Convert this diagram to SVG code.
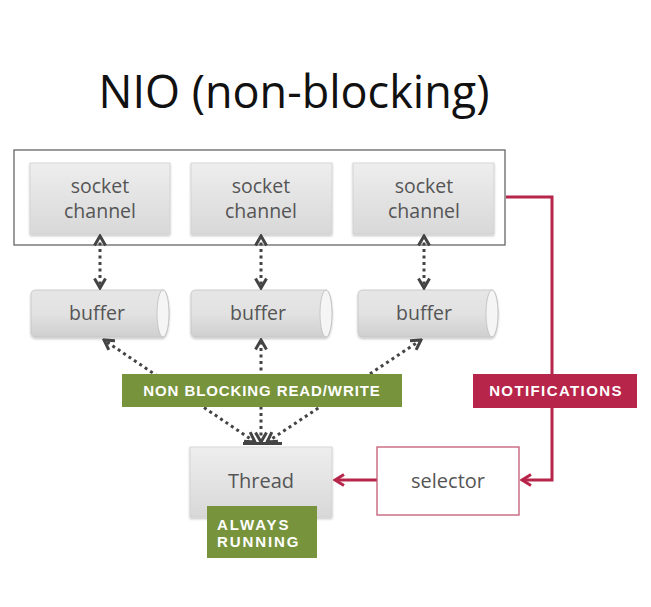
<svg xmlns="http://www.w3.org/2000/svg" width="651" height="607" viewBox="0 0 651 607">
<defs>
<linearGradient id="gbox" x1="0" y1="0" x2="0" y2="1">
<stop offset="0" stop-color="#eeeeee"/>
<stop offset="1" stop-color="#d8d8d8"/>
</linearGradient>
<linearGradient id="gcyl" x1="0" y1="0" x2="0" y2="1">
<stop offset="0" stop-color="#e6e6e6"/>
<stop offset="0.5" stop-color="#e2e2e2"/>
<stop offset="1" stop-color="#cfcfcf"/>
</linearGradient>
<marker id="ah" viewBox="0 0 14 14" refX="12" refY="7" markerWidth="14" markerHeight="14" markerUnits="userSpaceOnUse" orient="auto-start-reverse">
<path d="M2.5,1.5 L12,7 L2.5,12.5" fill="none" stroke="#444" stroke-width="3"/>
</marker>
<marker id="ahr" viewBox="0 0 14 14" refX="12" refY="7" markerWidth="14" markerHeight="14" markerUnits="userSpaceOnUse" orient="auto">
<path d="M3,1.5 L12,7 L3,12.5" fill="none" stroke="#b8254a" stroke-width="3"/>
</marker>
<filter id="sh" x="-10%" y="-10%" width="120%" height="130%">
<feDropShadow dx="0" dy="1.5" stdDeviation="1.2" flood-color="#000" flood-opacity="0.25"/>
</filter>
</defs>
<style>
.t{font-family:"Open Sans","DejaVu Sans",sans-serif;fill:#555;text-anchor:middle}
.lb{font-family:"Liberation Sans",Arial,sans-serif;font-weight:bold;fill:#fff}
.box{fill:url(#gbox);stroke:#d0d0d0;stroke-width:0.8}
.cyl{fill:url(#gcyl);stroke:#c4c4c4;stroke-width:0.8}
.cap{fill:#f5f5f5;stroke:#bdbdbd;stroke-width:0.8}
.dot{fill:none;stroke:#444;stroke-width:3;stroke-dasharray:3 3.5}
.red{fill:none;stroke:#b8254a;stroke-width:3}
</style>
<rect width="651" height="607" fill="#ffffff"/>
<text x="294" y="108" font-family="'Open Sans','DejaVu Sans',sans-serif" font-size="45" fill="#111" text-anchor="middle">NIO (non-blocking)</text>

<g id="channels">
<rect x="14" y="150" width="491" height="95" fill="#fff" stroke="#666" stroke-width="1.3"/>
</g>
<g id="socket1"><rect class="box" x="30" y="163" width="140" height="71" filter="url(#sh)"/><text class="t" x="100" y="193" font-size="19.5">socket</text><text class="t" x="100" y="218" font-size="19.5">channel</text></g>
<g id="socket2"><rect class="box" x="191" y="163" width="141" height="71" filter="url(#sh)"/><text class="t" x="261" y="193" font-size="19.5">socket</text><text class="t" x="261" y="218" font-size="19.5">channel</text></g>
<g id="socket3"><rect class="box" x="353" y="163" width="141" height="71" filter="url(#sh)"/><text class="t" x="424" y="193" font-size="19.5">socket</text><text class="t" x="424" y="218" font-size="19.5">channel</text></g>

<g id="buffer1"><path class="cyl" filter="url(#sh)" d="M36,290 H163 A6,23.5 0 0 1 163,337 H36 Q31,337 31,332 V295 Q31,290 36,290 Z"/><ellipse class="cap" cx="163" cy="313.5" rx="6" ry="23.5"/><text class="t" x="97" y="320" font-size="19.5">buffer</text></g>
<g id="buffer2"><path class="cyl" filter="url(#sh)" d="M196,290 H326 A6,23.5 0 0 1 326,337 H196 Q191,337 191,332 V295 Q191,290 196,290 Z"/><ellipse class="cap" cx="326" cy="313.5" rx="6" ry="23.5"/><text class="t" x="258" y="320" font-size="19.5">buffer</text></g>
<g id="buffer3"><path class="cyl" filter="url(#sh)" d="M363,290 H492 A6,23.5 0 0 1 492,337 H363 Q358,337 358,332 V295 Q358,290 363,290 Z"/><ellipse class="cap" cx="492" cy="313.5" rx="6" ry="23.5"/><text class="t" x="424" y="320" font-size="19.5">buffer</text></g>

<g id="connectors">
<line class="dot" x1="100" y1="236" x2="100" y2="288" marker-start="url(#ah)" marker-end="url(#ah)"/>
<line class="dot" x1="261" y1="236" x2="261" y2="288" marker-start="url(#ah)" marker-end="url(#ah)"/>
<line class="dot" x1="424" y1="236" x2="424" y2="288" marker-start="url(#ah)" marker-end="url(#ah)"/>
<line class="dot" x1="255" y1="442" x2="104" y2="340" marker-start="url(#ah)" marker-end="url(#ah)"/>
<line class="dot" x1="261" y1="442" x2="261" y2="340" marker-start="url(#ah)" marker-end="url(#ah)"/>
<line class="dot" x1="267" y1="442" x2="421" y2="340" marker-start="url(#ah)" marker-end="url(#ah)"/>
<line x1="243" y1="443.5" x2="282" y2="443.5" stroke="#444" stroke-width="3"/>
<polyline class="red" points="506,197 552,197 552,480 522,480" marker-end="url(#ahr)"/>
<line class="red" x1="377" y1="480" x2="335" y2="480" marker-end="url(#ahr)"/>
</g>

<g id="label-nbrw"><rect x="122" y="374" width="280" height="33" fill="#77933c"/><text class="lb" x="262" y="396" font-size="15" text-anchor="middle" letter-spacing="0.9">NON BLOCKING READ/WRITE</text></g>
<g id="label-notif"><rect x="473" y="374" width="164" height="34" fill="#b8254a"/><text class="lb" x="556" y="396" font-size="15" text-anchor="middle" letter-spacing="1.4">NOTIFICATIONS</text></g>

<g id="thread"><rect class="box" x="190" y="447" width="142" height="70" filter="url(#sh)"/><text class="t" x="261" y="488" font-size="20">Thread</text></g>
<g id="selector"><rect x="377" y="447" width="142" height="68" fill="#fff" stroke="#c25a72" stroke-width="1.3"/><text class="t" x="448" y="488" font-size="20">selector</text></g>
<g id="label-running"><rect x="207" y="506" width="110" height="52" fill="#77933c"/><text class="lb" x="217" y="530" font-size="15" letter-spacing="1.9">ALWAYS</text><text class="lb" x="217" y="547" font-size="15" letter-spacing="1.9">RUNNING</text></g>
</svg>
